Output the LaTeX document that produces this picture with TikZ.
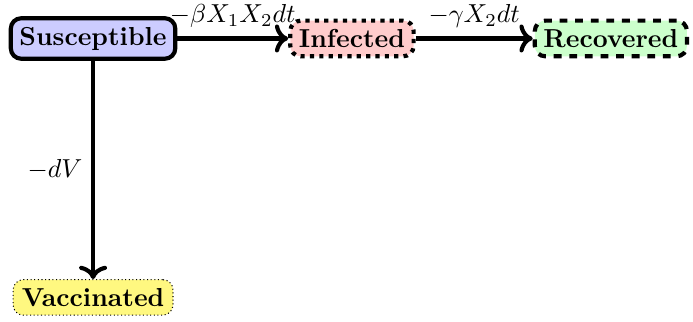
\documentclass[tikz,border=0pt]{standalone}
\usepackage{amsmath,amssymb}
\usepackage{xcolor}
\usetikzlibrary{arrows.meta,positioning}
\begin{document}
\begin{tikzpicture}[
  state/.style={rectangle, rounded corners, draw, font=\bfseries},
  arr/.style={->, ultra thick}
]
\useasboundingbox (-1.258,-3.825) rectangle (8.11,0.52);
\node[state, ultra thick, fill=blue!20] (s) at (0,0) {Susceptible};
\node[state, ultra thick, dotted, fill=red!20] (i) at (3.5,0) {Infected};
\node[state, ultra thick, dashed, fill=green!20] (r) at (7,0) {Recovered};
\node[state, thin, densely dotted, fill=yellow!50] (v) at (0,-3.5) {Vaccinated};
\draw[arr] (s) -- node[above] {$-\beta X_1 X_2 dt$} (i);
\draw[arr] (i) -- node[above] {$-\gamma X_2 dt$} (r);
\draw[arr] (s) -- node[left] {$-dV$} (v);
\end{tikzpicture}
\end{document}
